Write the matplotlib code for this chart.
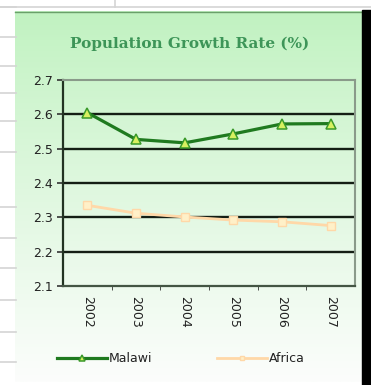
import matplotlib
matplotlib.use("Agg")
import matplotlib.pyplot as plt
import numpy as np
from matplotlib.patches import Rectangle
from matplotlib.lines import Line2D

years = ["2002", "2003", "2004", "2005", "2006", "2007"]
malawi = [2.605, 2.527, 2.517, 2.543, 2.572, 2.573]
africa = [2.335, 2.312, 2.301, 2.292, 2.287, 2.276]
yticks = [2.1, 2.2, 2.3, 2.4, 2.5, 2.6, 2.7]
title = "Population Growth Rate (%)"

W, H = 371, 385
fig = plt.figure(figsize=(W / 100, H / 100), dpi=100)
fig.patch.set_facecolor("white")

def fx(px):
    return px / W

def fy(py):
    return 1 - py / H

# spreadsheet grid lines behind
for yy in [7, 37, 66, 93, 121, 152, 207, 238, 268, 300, 332, 362]:
    fig.add_artist(Line2D([0, fx(16)], [fy(yy), fy(yy)], color="#d4d4d4", lw=1.2))
fig.add_artist(Line2D([0, 1], [fy(7), fy(7)], color="#d4d4d4", lw=1.2))
fig.add_artist(Line2D([fx(115), fx(115)], [fy(0), fy(7)], color="#d4d4d4", lw=1.2))

# chart area gradient
bg = fig.add_axes([fx(15), fy(382), fx(362) - fx(15), fy(11) - fy(382)])
grad = np.linspace(0, 1, 256).reshape(-1, 1) ** 0.9
top = np.array([192, 242, 192]) / 255
bot = np.array([252, 253, 252]) / 255
img = top[None, None, :] * (1 - grad[:, :, None]) + bot[None, None, :] * grad[:, :, None]
bg.imshow(img, aspect="auto", extent=[0, 1, 0, 1])
bg.set_axis_off()
fig.add_artist(Line2D([fx(15), fx(362)], [fy(11.5), fy(11.5)], color="#6aa06a", lw=1.0))

# black strip at right
fig.add_artist(Rectangle((fx(362), 0), 1 - fx(362), fy(10), color="black", zorder=5))

# title
fig.text(fx(190), fy(44), title, ha="center", va="center", color="#3d9558",
         fontsize=11, fontweight="bold", family="DejaVu Serif")

ax = fig.add_axes([fx(63), fy(286), fx(355) - fx(63), fy(80) - fy(286)])
ax.patch.set_alpha(0)
x = np.arange(len(years))
ax.plot(x, malawi, color="#1f7a1f", lw=2.3, marker="^", markersize=7,
        markerfacecolor="#d8f060", markeredgecolor="#3a9a2a", markeredgewidth=1.1, label="Malawi", zorder=4)
ax.plot(x, africa, color="#ffd8a8", lw=2.0, marker="s", markersize=6,
        markerfacecolor="#fff0c8", markeredgecolor="#ffd8a8", markeredgewidth=1.0, label="Africa", zorder=4)

ax.set_xlim(-0.5, len(years) - 0.5)
ax.set_ylim(2.1, 2.7)
ax.set_yticks(yticks)
ax.set_yticklabels([f"{v:.1f}" for v in yticks], fontsize=9, color="#222222")
ax.set_xticks(x)
ax.set_xticklabels(years, rotation=-90, fontsize=9, color="#222222")
ax.tick_params(axis="x", length=0, pad=7)
ax.set_xticks(np.arange(0.5, len(years) - 0.5, 1), minor=True)
ax.tick_params(axis="x", which="minor", length=3, color="#333333")
ax.tick_params(axis="y", length=4, width=1.2, color="#333333", pad=3)
for v in yticks[1:-1]:
    ax.axhline(v, color="#141e14", lw=1.7, zorder=2)
ax.spines["top"].set_color("#8a9a8a")
ax.spines["right"].set_color("#8a9a8a")
ax.spines["top"].set_linewidth(1.5)
ax.spines["right"].set_linewidth(1.5)
ax.spines["left"].set_color("#223322")
ax.spines["left"].set_linewidth(1.6)
ax.spines["bottom"].set_color("#445544")
ax.spines["bottom"].set_linewidth(1.6)

leg = fig.legend(loc="center left", bbox_to_anchor=(fx(57), fy(359)), ncol=2, frameon=False,
                 fontsize=9, handlelength=4.0, columnspacing=5.2, handletextpad=0.12,
                 borderpad=0, borderaxespad=0, markerscale=0.6)
for t in leg.get_texts():
    t.set_color("#222222")

fig.savefig("out.png", dpi=100)
